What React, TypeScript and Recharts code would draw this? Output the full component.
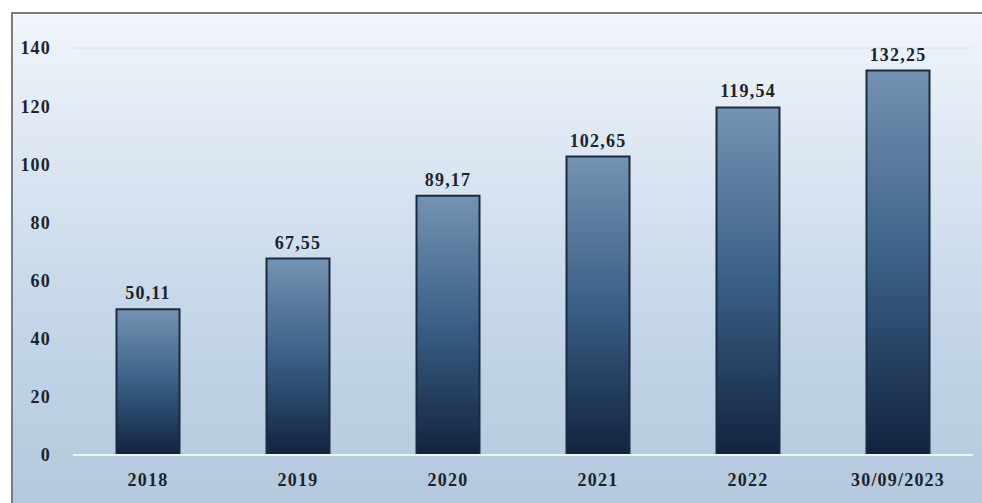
import { Bar, BarChart, XAxis, YAxis, LabelList, ReferenceLine } from "recharts";

const periods = ["2018", "2019", "2020", "2021", "2022", "30/09/2023"];
const values = [50.11, 67.55, 89.17, 102.65, 119.54, 132.25];
const yTicks = [0, 20, 40, 60, 80, 100, 120, 140];

const data = periods.map((period, i) => ({ period, value: values[i] }));

const fmt = (v: number) => v.toFixed(2).replace(".", ",");

const tickStyle = {
    fill: "#1c232c",
    fontSize: 18,
    fontWeight: 700,
    letterSpacing: 1.2,
    fontFamily: "'Liberation Serif', 'DejaVu Serif', serif",
};

export default function App() {
    return (
        <div style={{ position: "fixed", left: 0, top: 0, width: 982, height: 503, background: "#fff" }}>
            <div
                style={{
                    position: "absolute",
                    left: 11,
                    top: 12,
                    width: 971,
                    height: 491,
                    borderTop: "2px solid #7a7d80",
                    borderLeft: "2px solid #7a7d80",
                    boxSizing: "border-box",
                    background: "linear-gradient(to bottom, #f1f5fb 0%, #dbe6f2 30%, #c3d5e7 65%, #b4c9de 100%)",
                }}
            />
            <div style={{ position: "absolute", left: 0, top: 0 }}>
                <BarChart
                    width={982}
                    height={503}
                    data={data}
                    barCategoryGap="29%"
                    margin={{ top: 48, right: 9, left: 12, bottom: 0 }}>
                    <defs>
                        <linearGradient id="barFill" x1="0" y1="0" x2="0" y2="1">
                            <stop offset="0%" stopColor="#7593b3" />
                            <stop offset="50%" stopColor="#3a5f86" />
                            <stop offset="100%" stopColor="#12233e" />
                        </linearGradient>
                    </defs>
                    <ReferenceLine y={140} stroke="#d7e0ea" strokeWidth={1} />
                    <XAxis
                        dataKey="period"
                        tick={tickStyle}
                        axisLine={{ stroke: "#eef4fa", strokeWidth: 2 }}
                        tickLine={false}
                        tickMargin={12}
                        height={48} />
                    <YAxis
                        domain={[0, 140]}
                        ticks={yTicks}
                        tick={tickStyle}
                        axisLine={false}
                        tickLine={false}
                        tickMargin={16}
                        width={61} />
                    <Bar
                        dataKey="value"
                        fill="url(#barFill)"
                        stroke="#1b2b40"
                        strokeWidth={2}
                        isAnimationActive={false}>
                        <LabelList
                            dataKey="value"
                            position="top"
                            offset={10}
                            formatter={(v: any) => fmt(Number(v))}
                            style={tickStyle} />
                    </Bar>
                </BarChart>
            </div>
        </div>
    );
}
